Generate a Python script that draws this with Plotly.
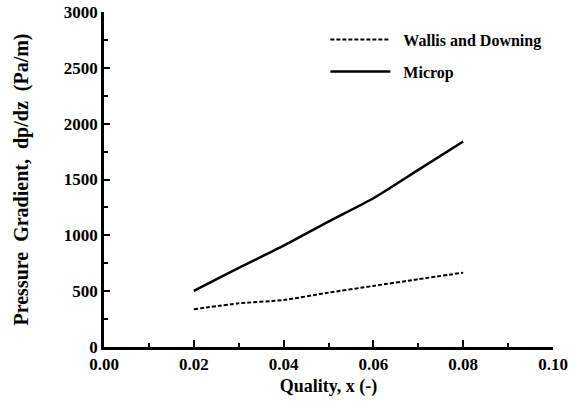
import plotly.graph_objects as go

quality = [0.02, 0.03, 0.04, 0.05, 0.06, 0.07, 0.08]
wallis_downing = [338, 391, 421, 487, 547, 607, 666]
microp = [502, 708, 908, 1123, 1332, 1586, 1840]

x_ticks = [0.0, 0.02, 0.04, 0.06, 0.08, 0.10]
x_labels = ["0.00", "0.02", "0.04", "0.06", "0.08", "0.10"]
y_ticks = [0, 500, 1000, 1500, 2000, 2500, 3000]

font_family = "Liberation Serif, Times New Roman, serif"
pad = "\u00a0\u00a0"

fig = go.Figure()
fig.add_trace(go.Scatter(
    x=quality, y=wallis_downing, mode="lines", name=pad + "Wallis and Downing",
    legendgroup="a",
    line=dict(color="black", width=2, dash="4px,2px", shape="spline", smoothing=0.6),
))
fig.add_trace(go.Scatter(
    x=quality, y=microp, mode="lines", name=pad + "Microp",
    legendgroup="b",
    line=dict(color="black", width=2.5, shape="spline", smoothing=0.6),
))

fig.update_layout(
    width=576, height=402,
    margin=dict(l=104, r=23, t=12, b=55, autoexpand=False),
    paper_bgcolor="white", plot_bgcolor="white",
    font=dict(family=font_family, color="black", size=14),
    legend=dict(
        x=0.493, y=0.968, xanchor="left", yanchor="top",
        bgcolor="rgba(0,0,0,0)", font=dict(size=16, family=font_family, weight="bold"),
        itemwidth=60, tracegroupgap=8,
    ),
    showlegend=True,
)
fig.update_xaxes(
    range=[0, 0.10], tickvals=x_ticks, ticktext=x_labels,
    showgrid=False, zeroline=False, automargin=False,
    showline=True, linecolor="black", linewidth=2.5,
    ticks="inside", ticklen=7, tickwidth=2, tickcolor="black",
    minor=dict(dtick=0.01, ticks="inside", ticklen=4, tickwidth=2, tickcolor="black"),
    tickfont=dict(size=17, family=font_family, weight="bold"),
    ticklabeloverflow="allow",
    title=dict(text="Quality, x (-)", font=dict(size=18, family=font_family, weight="bold"), standoff=7),
)
fig.update_yaxes(
    range=[0, 3000], tickvals=y_ticks,
    showgrid=False, zeroline=False, automargin=False,
    showline=True, linecolor="black", linewidth=2.5,
    ticks="inside", ticklen=6, tickwidth=2, tickcolor="black",
    minor=dict(dtick=250, ticks="inside", ticklen=4, tickwidth=2, tickcolor="black"),
    tickfont=dict(size=17, family=font_family, weight="bold"),
    ticklabeloverflow="allow",
    title=dict(text="Pressure  Gradient,  dp/dz  (Pa/m)", font=dict(size=20, family=font_family, weight="bold"), standoff=30),
)

fig.write_html("out.html", config={"displayModeBar": False},
               post_script="document.body.style.margin='0';")
